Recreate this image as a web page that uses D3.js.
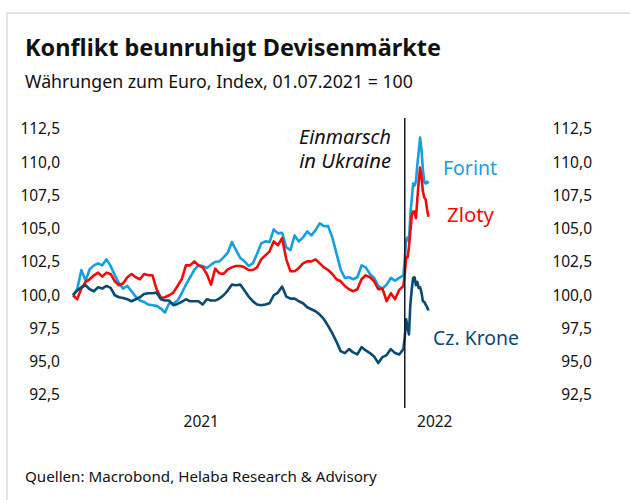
<!DOCTYPE html>
<html>
<head>
<meta charset="utf-8">
<script src="https://cdn.jsdelivr.net/npm/d3@7"></script>
<style>
  html, body { margin: 0; padding: 0; background: #fff; }
  svg { display: block; font-family: "Noto Sans", sans-serif; }
</style>
</head>
<body>
<svg id="chart" width="630" height="500"></svg>
<script>
// =========================
// DADES
// =========================

// dies des del 01.07.2021 (cada 3 dies fins a la invasió, després diari)
const startDate = "2021-07-01";
const dayOffsets = [
  0, 3, 6, 9, 12, 15, 18, 21, 24, 27, 30, 33, 36, 39, 42, 45, 48, 51, 54, 57,
  60, 63, 66, 69, 72, 75, 78, 81, 84, 87, 90, 93, 96, 99, 102, 105, 108, 111, 114, 117,
  120, 123, 126, 129, 132, 135, 138, 141, 144, 147, 150, 153, 156, 159, 162, 165, 168, 171, 174, 177,
  180, 183, 186, 189, 192, 195, 198, 201, 204, 207, 210, 213, 216, 219, 222, 225, 228, 231, 234, 237,
  238, 239, 240, 241, 242, 243, 244, 245, 246, 247, 248, 249, 250, 251, 252, 253, 254, 255
];

const forint = [
  100.0, 100.45, 101.9, 101.1, 101.95, 102.25, 102.4, 102.25, 102.7, 102.2,
  101.5, 100.9, 100.5, 100.7, 100.3, 99.9, 99.6, 99.5, 99.3, 99.25,
  99.2, 99.0, 98.7, 99.4, 99.4, 99.6, 100.15, 100.8, 101.35, 101.9,
  102.25, 102.2, 102.05, 102.3, 102.5, 102.55, 102.85, 103.2, 104.0, 103.4,
  102.8, 102.55, 102.2, 102.4, 103.1, 103.9, 104.05, 104.0, 104.95, 104.65,
  104.7, 103.6, 103.4, 104.5, 104.05, 104.35, 104.8, 104.5, 104.9, 105.4,
  105.2, 105.2, 104.35, 103.15, 101.95, 101.3, 101.35, 101.2, 101.35, 102.25,
  102.1, 101.6, 101.3, 100.7, 100.5, 100.8, 101.3, 101.1, 101.3, 101.5,
  102.7, 104.2, 104.35, 104.05, 106.1, 107.2, 108.4, 108.25, 108.55, 109.8,
  110.8, 111.85, 110.95, 109.45, 108.5, 108.4, 108.55, 108.4
];

const zloty = [
  100.0, 99.7, 100.5, 101.0, 101.2, 101.5, 101.7, 101.4, 101.7, 101.6,
  101.05, 100.75, 100.9, 101.35, 101.6, 101.35, 101.2, 101.6, 101.5, 101.5,
  100.45, 99.8, 99.85, 100.0, 100.2, 100.7, 101.2, 102.25, 102.25, 102.55,
  102.25, 102.1, 101.6, 100.8, 102.0, 101.65, 101.6, 101.95, 102.1, 102.2,
  102.2, 102.1, 101.9, 101.9, 102.1, 102.7, 103.0, 103.3, 104.05, 103.75,
  104.3, 102.7, 101.8, 101.8, 102.05, 102.4, 102.55, 102.55, 102.7, 102.4,
  102.1, 101.9, 101.6, 101.2, 101.05, 100.7, 100.45, 100.3, 100.45, 101.2,
  101.5, 101.35, 101.05, 100.45, 100.5, 99.55, 100.15, 99.7, 100.4, 100.7,
  101.6, 102.85, 102.85, 103.6, 104.8, 106.0, 106.3, 106.3, 105.8, 107.2,
  108.55, 109.6, 108.9, 107.8, 107.35, 107.2, 106.45, 105.9
];

const krone = [
  100.0, 100.35, 100.6, 100.75, 100.45, 100.3, 100.6, 100.5, 100.7, 100.55,
  100.0, 99.85, 99.8, 99.7, 99.55, 99.7, 99.85, 100.1, 100.15, 100.15,
  100.2, 99.7, 99.6, 99.6, 99.25, 99.35, 99.5, 99.7, 99.55, 99.55,
  99.55, 99.3, 99.7, 99.6, 99.6, 99.75, 100.0, 100.35, 100.8, 100.75,
  100.8, 100.35, 99.9, 99.55, 99.3, 99.25, 99.3, 99.4, 100.0, 100.2,
  100.65, 99.9, 99.75, 99.75, 99.55, 99.4, 99.1, 98.95, 98.8, 98.55,
  98.2, 97.7, 97.15, 96.5, 95.8, 95.65, 95.95, 95.7, 95.55, 96.1,
  95.85, 95.65, 95.4, 94.9, 95.35, 95.5, 95.95, 95.65, 95.55, 95.95,
  96.85, 98.2, 97.6, 97.05, 99.3, 100.45, 101.3, 101.35, 100.75, 101.0,
  100.55, 100.6, 100.2, 99.55, 99.5, 99.3, 99.1, 98.85
];

const seriesNames = ["Forint", "Zloty", "Cz. Krone"];
const seriesColors = ["#159fe0", "#f50a0a", "#0a4a72"];

const yTicks = [92.5, 95, 97.5, 100, 102.5, 105, 107.5, 110, 112.5];
const yearLabels = ["2021", "2022"];
const yearBounds = ["2021-07-01", "2022-01-01", "2022-06-01"];

const eventDate = "2022-02-24";
const eventLabel = ["Einmarsch", "in Ukraine"];


// =========================
// HELPERS
// =========================

const parseDate = d3.timeParse("%Y-%m-%d");
const de = d3.formatLocale({ decimal: ",", thousands: ".", grouping: [3], currency: ["", " €"] });
const fmtTick = de.format(".1f");

// ajusta la mida de la font perquè el text faci l'amplada desitjada
function fitText(sel, targetWidth) {
  const size = parseFloat(sel.style("font-size"));
  const w = sel.node().getComputedTextLength();
  if (w > 0) sel.style("font-size", (size * targetWidth / w).toFixed(2) + "px");
  return sel;
}


// =========================
// DIBUIX
// =========================

const svg = d3.select("#chart");

// marc de la targeta
svg.append("rect")
  .attr("x", 7)
  .attr("y", 13)
  .attr("width", 700)
  .attr("height", 600)
  .attr("fill", "#fff")
  .attr("stroke", "#e4e4e4")
  .attr("stroke-width", 2);

// títol i subtítol
fitText(svg.append("text")
  .attr("x", 25)
  .attr("y", 56)
  .text("Konflikt beunruhigt Devisenmärkte")
  .style("font-size", "22px")
  .style("font-weight", "bold")
  .style("fill", "#111"), 416);

fitText(svg.append("text")
  .attr("x", 25)
  .attr("y", 88)
  .text("Währungen zum Euro, Index, 01.07.2021 = 100")
  .style("font-size", "16px")
  .style("fill", "#111"), 388);

// escales
const start = parseDate(startDate);
const dates = dayOffsets.map(d => d3.timeDay.offset(start, d));

const x = d3.scaleTime()
  .domain([parseDate(yearBounds[0]), parseDate(yearBounds[2])])
  .range([73, 540]);

const y = d3.scaleLinear()
  .domain([92.5, 112.5])
  .range([395, 129]);

// etiquetes eix Y (esquerra i dreta)
[{ xPos: 60 }, { xPos: 592 }].forEach(side => {
  svg.append("g")
    .selectAll("text")
    .data(yTicks)
    .enter()
    .append("text")
    .attr("x", side.xPos)
    .attr("y", d => y(d))
    .attr("dy", "0.35em")
    .attr("text-anchor", "end")
    .text(d => fmtTick(d))
    .style("font-size", "15.5px")
    .style("fill", "#111");
});

// etiquetes d'anys, centrades dins de cada tram
svg.append("g")
  .selectAll("text")
  .data(yearLabels)
  .enter()
  .append("text")
  .attr("x", (d, i) => (x(parseDate(yearBounds[i])) + x(parseDate(yearBounds[i + 1]))) / 2)
  .attr("y", 427)
  .attr("text-anchor", "middle")
  .text(d => d)
  .style("font-size", "15.5px")
  .style("fill", "#111");

// línies
const line = d3.line()
  .x((d, i) => x(dates[i]))
  .y(d => y(d));

[forint, zloty, krone].forEach((values, i) => {
  svg.append("path")
    .datum(values)
    .attr("d", line)
    .attr("fill", "none")
    .attr("stroke", seriesColors[i])
    .attr("stroke-width", 2.6)
    .attr("stroke-linejoin", "round");
});

// línia de la invasió
const xEvent = x(parseDate(eventDate));
svg.append("line")
  .attr("x1", xEvent)
  .attr("x2", xEvent)
  .attr("y1", 118)
  .attr("y2", 408)
  .attr("stroke", "#0d1b2a")
  .attr("stroke-width", 1.5);

eventLabel.forEach((t, i) => {
  fitText(svg.append("text")
    .attr("x", 391)
    .attr("y", 144 + i * 24)
    .attr("text-anchor", "end")
    .text(t)
    .style("font-size", "18px")
    .style("font-style", "italic")
    .style("fill", "#111"), i === 0 ? 92 : 92);
});

// noms de les sèries
const labelPos = [
  { x: 443, y: 175, w: 54 },
  { x: 447, y: 222, w: 47 },
  { x: 433, y: 345, w: 86 }
];

seriesNames.forEach((name, i) => {
  fitText(svg.append("text")
    .attr("x", labelPos[i].x)
    .attr("y", labelPos[i].y)
    .text(name)
    .style("font-size", "19px")
    .style("fill", seriesColors[i]), labelPos[i].w);
});

// font
fitText(svg.append("text")
  .attr("x", 25)
  .attr("y", 482)
  .text("Quellen: Macrobond, Helaba Research & Advisory")
  .style("font-size", "15px")
  .style("fill", "#111"), 352);
</script>
</body>
</html>
